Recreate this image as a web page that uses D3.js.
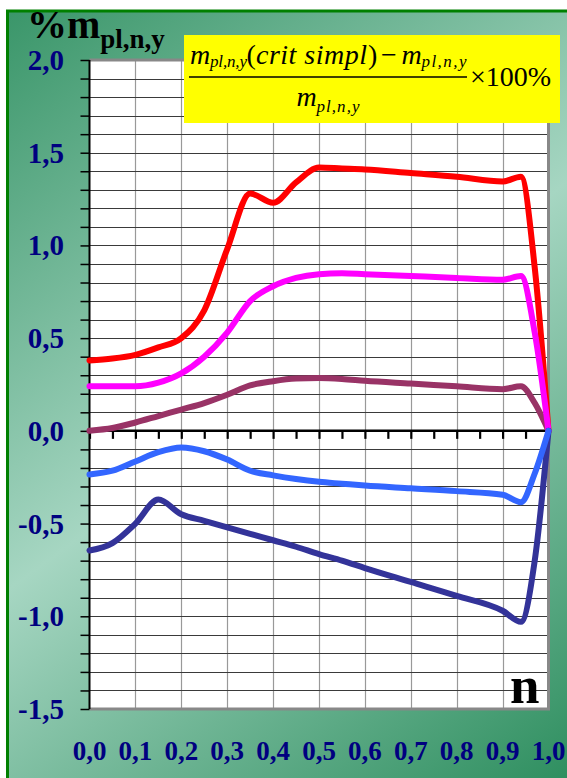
<!DOCTYPE html>
<html><head><meta charset="utf-8">
<script src="https://cdn.jsdelivr.net/npm/d3@7"></script>
<style>html,body{margin:0;padding:0;background:#fff;}svg{display:block;}</style>
</head><body>
<script>
// ---- data ----
const nValues = [0, 0.05, 0.1, 0.15, 0.2, 0.25, 0.3, 0.35, 0.4, 0.45, 0.5, 0.55, 0.6, 0.7, 0.8, 0.9, 0.94, 0.97, 1.0];
const seriesRed     = [0.38, 0.39, 0.41, 0.45, 0.50, 0.65, 0.98, 1.28, 1.23, 1.34, 1.42, 1.415, 1.41, 1.39, 1.37, 1.345, 1.37, 0.88, 0];
const seriesMagenta = [0.24, 0.24, 0.24, 0.26, 0.31, 0.40, 0.53, 0.70, 0.78, 0.825, 0.845, 0.85, 0.845, 0.835, 0.825, 0.815, 0.835, 0.53, 0];
const seriesMaroon  = [0.0, 0.015, 0.045, 0.08, 0.115, 0.15, 0.195, 0.245, 0.268, 0.282, 0.285, 0.28, 0.27, 0.255, 0.24, 0.225, 0.24, 0.15, 0];
const seriesBlue    = [-0.235, -0.215, -0.165, -0.115, -0.09, -0.11, -0.155, -0.215, -0.24, -0.26, -0.275, -0.285, -0.295, -0.31, -0.325, -0.345, -0.385, -0.23, 0];
const seriesNavy    = [-0.645, -0.605, -0.50, -0.37, -0.45, -0.485, -0.52, -0.555, -0.59, -0.625, -0.665, -0.70, -0.74, -0.815, -0.89, -0.97, -1.03, -0.70, 0];
const xTickLabels = ["0,0","0,1","0,2","0,3","0,4","0,5","0,6","0,7","0,8","0,9","1,0"];
const yTickLabels = ["2,0","1,5","1,0","0,5","0,0","-0,5","-1,0","-1,5"];
const yLabelValues = [2.0, 1.5, 1.0, 0.5, 0.0, -0.5, -1.0, -1.5];

const W = 567, H = 778;
const serif = "'Liberation Serif','Times New Roman',serif";
const navyText = "#000080";

const svg = d3.select("body").append("svg").attr("width", W).attr("height", H);
const defs = svg.append("defs");
const grad = defs.append("linearGradient").attr("id","bg").attr("gradientUnits","userSpaceOnUse")
  .attr("x1",0).attr("y1",0).attr("x2",W).attr("y2",H);
grad.append("stop").attr("offset","0").attr("stop-color","#379467");
grad.append("stop").attr("offset","0.5").attr("stop-color","#a6d6c2");
grad.append("stop").attr("offset","1").attr("stop-color","#2f8f60");

svg.append("rect").attr("x",7.5).attr("y",11).attr("width",W+20).attr("height",H+20)
  .attr("fill","url(#bg)").attr("stroke","#008000").attr("stroke-width",3);

const x = d3.scaleLinear().domain([0,1]).range([89.5,548.5]);
const y = d3.scaleLinear().domain([-1.5,2]).range([709,60]);

// plot area
svg.append("rect").attr("x",x(0)).attr("y",y(2)).attr("width",x(1)-x(0)).attr("height",y(-1.5)-y(2)).attr("fill","#fff");

// grid
const vGrid = d3.range(1,10).map(i=>i/10);
svg.append("g").selectAll("line").data(vGrid).join("line")
  .attr("x1",d=>Math.round(x(d))+0.5).attr("x2",d=>Math.round(x(d))+0.5)
  .attr("y1",y(2)).attr("y2",y(-1.5)).attr("stroke","#999").attr("stroke-width",1.2);
const hGrid = d3.range(-14,20).map(i=>i/10).filter(v=>Math.abs(v)>1e-9);
svg.append("g").selectAll("line").data(hGrid).join("line")
  .attr("x1",x(0)).attr("x2",x(1))
  .attr("y1",d=>Math.round(y(d))+0.5).attr("y2",d=>Math.round(y(d))+0.5)
  .attr("stroke","#3a3a3a").attr("stroke-width",1.1);

// frame (gray) top, right, bottom
svg.append("path")
  .attr("d",`M${x(0)},${y(2)}H${x(1)}V${y(-1.5)}H${x(0)}`)
  .attr("fill","none").attr("stroke","#888").attr("stroke-width",3);

// y axis with ticks every 0.1
const yAxis = d3.axisLeft(y).tickValues(d3.range(-15,21).map(i=>i/10)).tickSize(9).tickFormat("");
const gy = svg.append("g").attr("transform",`translate(${x(0)},0)`).call(yAxis);
gy.select(".domain").attr("stroke","#000").attr("stroke-width",2).attr("d",`M0,${y(2)}V${y(-1.5)}`);
gy.selectAll(".tick line").attr("stroke","#000").attr("stroke-width",1.5);

// y labels
svg.append("g").selectAll("text").data(yLabelValues).join("text")
  .attr("x",64).attr("y",d=>y(d)+10).attr("text-anchor","end")
  .attr("font-family",serif).attr("font-weight","bold").attr("font-size",29).attr("fill",navyText)
  .text((d,i)=>yTickLabels[i]);

// x axis at zero
const xAxis = d3.axisBottom(x).tickValues(d3.range(0,21).map(i=>i/20)).tickSize(8).tickFormat("");
const gx = svg.append("g").attr("transform",`translate(0,${y(0)})`).call(xAxis);
gx.select(".domain").attr("stroke","#000").attr("stroke-width",2.5).attr("d",`M${x(0)},0H${x(1)}`);
gx.selectAll(".tick line").attr("stroke","#000").attr("stroke-width",2.2);

// x labels
svg.append("g").selectAll("text").data(xTickLabels).join("text")
  .attr("x",(d,i)=>x(i/10)).attr("y",760).attr("text-anchor","middle")
  .attr("font-family",serif).attr("font-weight","bold").attr("font-size",27).attr("fill",navyText)
  .text(d=>d);

// lines
const series = [
  {vals: seriesMaroon, color:"#993366"},
  {vals: seriesRed, color:"#ff0000"},
  {vals: seriesMagenta, color:"#ff00ff"},
  {vals: seriesNavy, color:"#333399"},
  {vals: seriesBlue, color:"#3366ff"}
];
const line = d3.line().x(d=>x(d[0])).y(d=>y(d[1])).curve(d3.curveMonotoneX);
svg.append("g").selectAll("path").data(series).join("path")
  .attr("d",s=>line(nValues.map((n,i)=>[n,s.vals[i]])))
  .attr("fill","none").attr("stroke",s=>s.color).attr("stroke-width",6)
  .attr("stroke-linejoin","round").attr("stroke-linecap","round");

// axis titles
const t = svg.append("text").attr("x",27).attr("y",38).attr("font-family",serif).attr("font-weight","bold").attr("fill","#000");
t.append("tspan").attr("font-size",40).text("%m");
t.append("tspan").attr("font-size",27).attr("dy",10).text("pl,n,y");

svg.append("text").attr("x",510).attr("y",703).attr("font-family",serif).attr("font-weight","bold")
  .attr("font-size",53).attr("fill","#000").text("n");

// formula box
svg.append("rect").attr("x",184).attr("y",35).attr("width",376).attr("height",88).attr("fill","#ffff00");
const fg = svg.append("g").attr("font-family",serif).attr("fill","#000");
function txt(xp, yp, s, size, italic, len){
  const e = fg.append("text").attr("x",xp).attr("y",yp).attr("font-size",size)
    .attr("font-style", italic ? "italic" : "normal").text(s);
  if (len) e.attr("textLength",len).attr("lengthAdjust","spacing");
  return e;
}
txt(190, 63.5, "m", 28, true);
txt(210, 66.5, "pl,n,y", 17, true, 37);
txt(246.5, 63.5, "(", 28, false);
txt(256, 63.5, "crit simpl", 28, true, 111);
txt(368, 63.5, ")", 28, false);
txt(381, 63.5, "\u2212", 28, false);
txt(401.5, 63.5, "m", 28, true);
txt(421.5, 66.5, "pl,n,y", 17, true, 45);
fg.append("line").attr("x1",189).attr("x2",467).attr("y1",77).attr("y2",77).attr("stroke","#000").attr("stroke-width",1.5);
txt(470, 86, "\u00d7100%", 28, false);
txt(296.5, 106, "m", 28, true);
txt(316.5, 111.5, "pl,n,y", 17, true, 43);
</script>
</body></html>
